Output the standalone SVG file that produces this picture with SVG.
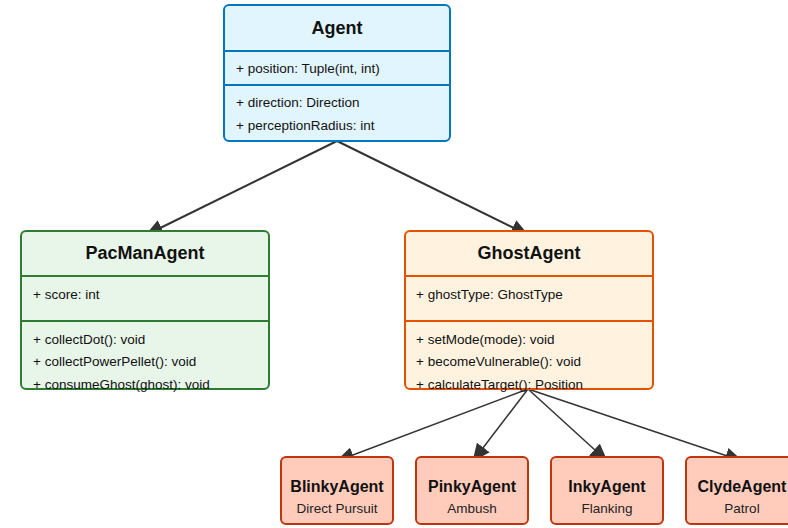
<svg xmlns="http://www.w3.org/2000/svg" width="788" height="528" viewBox="0 0 788 528">
<defs>
<marker id="arrL" markerWidth="18" markerHeight="16" refX="17" refY="8" markerUnits="userSpaceOnUse" orient="auto">
<path d="M0,0 L18,8 L0,16 z" fill="#333"/>
</marker>
</defs>
<style>
text{font-family:"Liberation Sans",Arial,sans-serif;fill:#111;}
.title{font-size:18px;font-weight:bold;text-anchor:middle;}
.item{font-size:13.5px;}
.sname{font-size:16px;font-weight:bold;text-anchor:middle;}
.sub{font-size:13.5px;text-anchor:middle;fill:#222;}
.agent rect,.agent line{stroke:#0277bd;stroke-width:2;}
.pac rect,.pac line{stroke:#2e7d32;stroke-width:2;}
.ghost rect,.ghost line{stroke:#e65100;stroke-width:2;}
.small rect{fill:#ffccbc;stroke:#bf360c;stroke-width:2;}
.conn line{stroke:#333;marker-end:url(#arrL);}
</style>
<g id="connectors" class="conn">
<line x1="337" y1="141" x2="146" y2="235" stroke-width="2"/>
<line x1="337" y1="141" x2="528" y2="235" stroke-width="2"/>
<line x1="528" y1="389" x2="337" y2="461" stroke-width="1.5"/>
<line x1="528" y1="389" x2="473" y2="461" stroke-width="1.5"/>
<line x1="528" y1="389" x2="607" y2="461" stroke-width="1.5"/>
<line x1="528" y1="389" x2="742" y2="461" stroke-width="1.5"/>
</g>
<g id="agent" class="agent">
<rect x="224" y="5" width="226" height="136" rx="5" fill="#e1f5fe"/>
<line x1="224" y1="51" x2="450" y2="51"/>
<line x1="224" y1="85" x2="450" y2="85"/>
<text class="title" x="337" y="34">Agent</text>
<text class="item" x="236" y="73">+ position: Tuple(int, int)</text>
<text class="item" x="236" y="107">+ direction: Direction</text>
<text class="item" x="236" y="130">+ perceptionRadius: int</text>
</g>
<g id="pacman" class="pac">
<rect x="21" y="231" width="248" height="158" rx="5" fill="#e8f5e9"/>
<line x1="21" y1="276" x2="269" y2="276"/>
<line x1="21" y1="321" x2="269" y2="321"/>
<text class="title" x="145" y="259">PacManAgent</text>
<text class="item" x="33" y="299">+ score: int</text>
<text class="item" x="33" y="344">+ collectDot(): void</text>
<text class="item" x="33" y="366">+ collectPowerPellet(): void</text>
<text class="item" x="33" y="389">+ consumeGhost(ghost): void</text>
</g>
<g id="ghost" class="ghost">
<rect x="405" y="231" width="248" height="158" rx="5" fill="#fff3e0"/>
<line x1="405" y1="276" x2="653" y2="276"/>
<line x1="405" y1="321" x2="653" y2="321"/>
<text class="title" x="529" y="259">GhostAgent</text>
<text class="item" x="416" y="299">+ ghostType: GhostType</text>
<text class="item" x="416" y="344">+ setMode(mode): void</text>
<text class="item" x="416" y="366">+ becomeVulnerable(): void</text>
<text class="item" x="416" y="389">+ calculateTarget(): Position</text>
</g>
<g id="blinky" class="small">
<rect x="281" y="457" width="112" height="67" rx="5"/>
<text class="sname" x="337" y="492">BlinkyAgent</text>
<text class="sub" x="337" y="513">Direct Pursuit</text>
</g>
<g id="pinky" class="small">
<rect x="416" y="457" width="112" height="67" rx="5"/>
<text class="sname" x="472" y="492">PinkyAgent</text>
<text class="sub" x="472" y="513">Ambush</text>
</g>
<g id="inky" class="small">
<rect x="551" y="457" width="112" height="67" rx="5"/>
<text class="sname" x="607" y="492">InkyAgent</text>
<text class="sub" x="607" y="513">Flanking</text>
</g>
<g id="clyde" class="small">
<rect x="686" y="457" width="112" height="67" rx="5"/>
<text class="sname" x="742" y="492">ClydeAgent</text>
<text class="sub" x="742" y="513">Patrol</text>
</g>
</svg>
